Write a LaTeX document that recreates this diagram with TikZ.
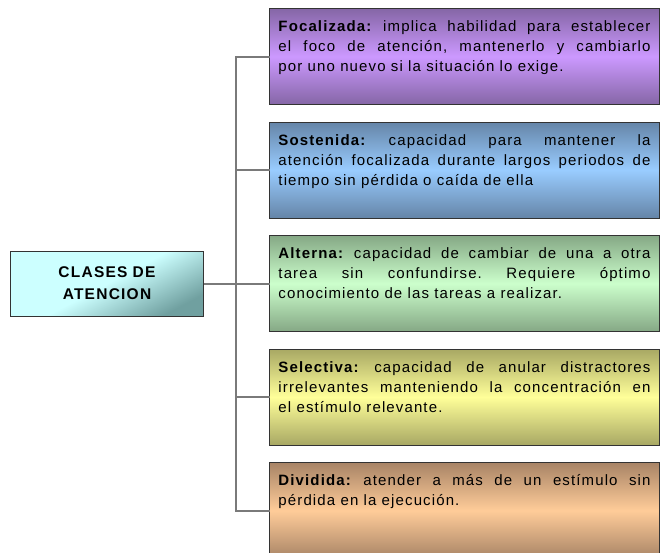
\documentclass[tikz,border=0pt]{standalone}
\usepackage{fontspec}
\setmainfont{Liberation Sans}
\usepackage{tikz}
\usetikzlibrary{matrix,positioning}
\frenchspacing
\tolerance=10000

\definecolor{purpleE}{HTML}{8566A6}
\definecolor{purpleM}{HTML}{CC99FF}
\definecolor{blueE}{HTML}{6585A8}
\definecolor{blueM}{HTML}{99CCFF}
\definecolor{greenE}{HTML}{85A885}
\definecolor{greenM}{HTML}{CCFFCC}
\definecolor{yellowE}{HTML}{A8A864}
\definecolor{yellowM}{HTML}{FFFF99}
\definecolor{orangeE}{HTML}{A88466}
\definecolor{orangeM}{HTML}{FFCC99}
\definecolor{rootL}{HTML}{CCFFFF}
\definecolor{rootD}{HTML}{70A0A0}
\definecolor{edgeline}{HTML}{333333}
\definecolor{linkgray}{HTML}{7A7A7A}

\tikzset{
  kind/.style={draw=edgeline, line width=1pt, text width=372pt, align=justify,
    inner xsep=9pt, inner ysep=8pt, text height=15pt, text depth=65pt,
    font=\fontsize{15}{20}\selectfont\addfontfeatures{LetterSpace=7.5},
    top color=#1E, bottom color=#1E, middle color=#1M},
  rootbox/.style={draw=edgeline, line width=1pt, text width=173pt, inner xsep=10pt,
    minimum height=65pt, align=center,
    font=\fontsize{15.5}{22}\selectfont\bfseries\addfontfeatures{LetterSpace=8},
    top color=rootL, bottom color=rootD, middle color=rootL, shading angle=28},
  link/.style={draw=linkgray, line width=2pt}
}

\begin{document}
\begin{tikzpicture}
  \useasboundingbox (0,0) rectangle (660pt,-552pt);
  \matrix (m) [matrix of nodes, row sep=16.5pt, column sep=65pt, inner sep=0pt,
    outer sep=0pt, nodes={anchor=center}, anchor=north west] at (10pt,-8pt)
  {
    & |[kind=purple]| {\textbf{Focalizada:} implica habilidad para establecer\linebreak el foco de atención, mantenerlo y cambiarlo\linebreak por uno nuevo si la situación lo exige.} \\
    & |[kind=blue]| {\textbf{Sostenida:} capacidad para mantener la\linebreak atención focalizada durante largos periodos de\linebreak tiempo sin pérdida o caída de ella} \\
    |[rootbox]| {CLASES DE\par ATENCION} & |[kind=green]| {\textbf{Alterna:} capacidad de cambiar de una a otra\linebreak tarea sin confundirse. Requiere óptimo\linebreak conocimiento de las tareas a realizar.} \\
    & |[kind=yellow]| {\textbf{Selectiva:} capacidad de anular distractores\linebreak irrelevantes manteniendo la concentración en\linebreak el estímulo relevante.} \\
    & |[kind=orange]| {\textbf{Dividida:} atender a más de un estímulo sin\linebreak pérdida en la ejecución.} \\
  };
  \coordinate (spine) at ([xshift=-34pt]m-3-2.west);
  \path[link]
  (m-3-1) edge (m-3-2)
  (m-2-2.west) edge (m-2-2.west -| spine)
  (m-4-2.west) edge (m-4-2.west -| spine)
  ;
  \draw[link] (m-1-2.west) -| (spine) |- (m-5-2.west);
\end{tikzpicture}
\end{document}
